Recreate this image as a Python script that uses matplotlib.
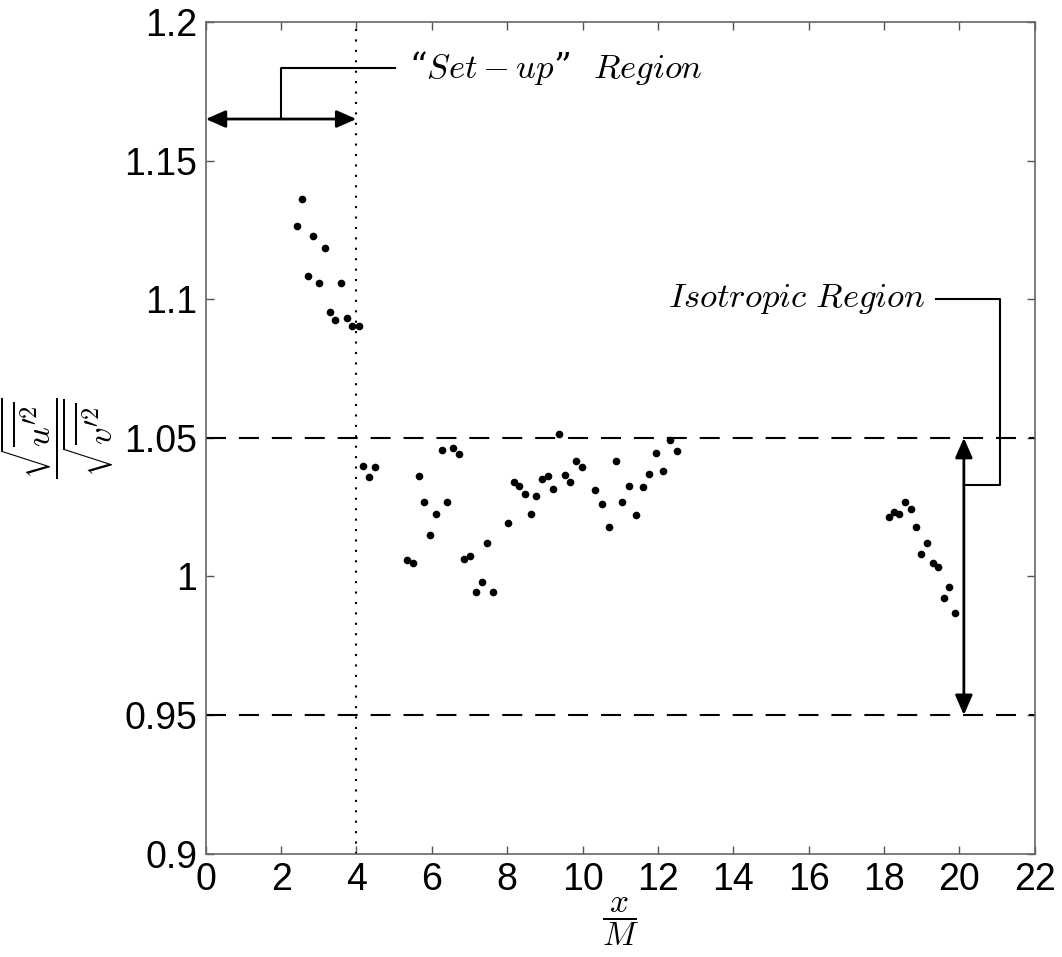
import matplotlib
matplotlib.use('Agg')
import matplotlib.pyplot as plt

plt.rcParams['font.family'] = ['Liberation Sans', 'DejaVu Sans']
plt.rcParams['mathtext.fontset'] = 'cm'

# set-up region points (x/M < 4)
x_setup = [2.42, 2.56, 2.71, 2.86, 3.00, 3.16, 3.30, 3.44, 3.60, 3.74, 3.89, 4.06]
y_setup = [1.1263, 1.1362, 1.1085, 1.1227, 1.1060, 1.1185, 1.0953, 1.0924, 1.1058, 1.0934, 1.0902, 1.0904]

# middle points
x_mid = [4.18, 4.34, 4.49,
         5.35, 5.51, 5.66, 5.80, 5.95, 6.11, 6.26, 6.41, 6.56, 6.72, 6.86, 7.01, 7.17, 7.32, 7.47, 7.63,
         8.03, 8.17, 8.32, 8.47, 8.63, 8.77, 8.93, 9.08, 9.22, 9.38, 9.54, 9.68, 9.83, 9.98,
         10.34, 10.51, 10.70, 10.88, 11.06, 11.23, 11.41, 11.60, 11.77, 11.95, 12.13, 12.31, 12.50]
y_mid = [1.0399, 1.0359, 1.0395,
         1.0060, 1.0047, 1.0363, 1.0269, 1.0149, 1.0225, 1.0456, 1.0267, 1.0465, 1.0443, 1.0063, 1.0073, 0.9943, 0.9981, 1.0119, 0.9943,
         1.0192, 1.0340, 1.0326, 1.0296, 1.0226, 1.0291, 1.0350, 1.0363, 1.0316, 1.0515, 1.0366, 1.0339, 1.0418, 1.0394,
         1.0310, 1.0261, 1.0177, 1.0418, 1.0269, 1.0328, 1.0221, 1.0323, 1.0369, 1.0445, 1.0381, 1.0492, 1.0454]

# far points
x_far = [18.12, 18.27, 18.41, 18.56, 18.71, 18.85, 18.99, 19.15, 19.29, 19.43, 19.59, 19.73, 19.88]
y_far = [1.0216, 1.0231, 1.0227, 1.0267, 1.0243, 1.0180, 1.0082, 1.0119, 1.0047, 1.0034, 0.9921, 0.9961, 0.9867]

xticks = list(range(0, 23, 2))
yticks = [0.9, 0.95, 1.0, 1.05, 1.1, 1.15, 1.2]
ytick_labels = ['0.9', '0.95', '1', '1.05', '1.1', '1.15', '1.2']

fig = plt.figure(figsize=(10.62, 9.57), dpi=100)
ax = fig.add_axes([0.1937, 0.108, 0.7806, 0.869])

for xs, ys in [(x_setup, y_setup), (x_mid, y_mid), (x_far, y_far)]:
    ax.plot(xs, ys, 'o', color='k', markersize=5.5, markeredgewidth=0, zorder=3)

ax.axhline(1.05, color='k', lw=1.5, dashes=(9.6, 6.2))
ax.axhline(0.95, color='k', lw=1.5, dashes=(9.6, 6.2))
ax.axvline(4, color='k', lw=1.5, dashes=(1, 4))

arrow = dict(arrowstyle='<|-|>,head_length=0.8,head_width=0.35', lw=2, color='k',
             mutation_scale=15, shrinkA=0, shrinkB=0)
# set-up region bracket
ax.annotate('', xy=(4, 1.165), xytext=(0, 1.165), arrowprops=arrow)
ax.plot([2, 2, 5.02], [1.165, 1.1834, 1.1834], color='k', lw=1.5)
ax.text(5.4, 1.1834, '“$Set-up$”  $Region$', fontsize=25, va='center', ha='left',
        family=['DejaVu Serif'])

# isotropic region bracket
ax.annotate('', xy=(20.12, 1.05), xytext=(20.12, 0.95), arrowprops=arrow)
ax.plot([19.38, 21.08, 21.08, 20.12], [1.1, 1.1, 1.0329, 1.0329], color='k', lw=1.5)
ax.text(19.1, 1.1, r'$Isotropic\ Region$', fontsize=25, va='center', ha='right')

ax.set_xlim(0, 22)
ax.set_ylim(0.9, 1.2)
ax.set_xticks(xticks)
ax.set_yticks(yticks)
ax.set_yticklabels(ytick_labels)
ax.tick_params(direction='in', top=True, right=True, length=6, width=1,
               labelsize=27, colors='#555555', labelcolor='k', pad=6)
for s in ax.spines.values():
    s.set_color('#666666')
    s.set_linewidth(1.2)

ax.set_xlabel(r'$\dfrac{x}{M}$', fontsize=24)
ax.xaxis.set_label_coords(0.5, -0.05)
ax.set_ylabel(r'$\dfrac{\sqrt{\overline{u^{\prime 2}}}}{\sqrt{\overline{v^{\prime 2}}}}$',
              fontsize=25)
ax.yaxis.set_label_coords(-0.108, 0.5)

fig.savefig('out.png', dpi=100)
